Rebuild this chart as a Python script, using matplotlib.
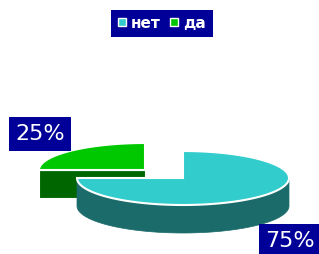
import numpy as np
import matplotlib.pyplot as plt
from matplotlib.patches import Polygon, Rectangle

labels = ['нет', 'да']
values = [75, 25]
top_colors = ['#33cccc', '#00c800']
side_colors = ['#1b6b6b', '#006600']

# layout (pixel units, y grows downward)
cx, cy, rx, ry, depth = 183, 178, 106, 27, 28
offsets = [(0, 0), (-38, -8)]
label_pos = [(290, 241), (40, 134)]

fig = plt.figure(figsize=(3.19, 2.54), dpi=100)
ax = fig.add_axes([0, 0, 1, 1])
ax.set_xlim(0, 319)
ax.set_ylim(254, 0)
ax.axis('off')


def pt(x0, y0, t):
    r = np.radians(t)
    return x0 + rx * np.cos(r), y0 - ry * np.sin(r)


# slice angles, start at 12 o'clock, clockwise
total = sum(values)
start = 90
slices = []
for v in values:
    t0 = start - 360 * v / total
    slices.append((t0, start))
    start = t0

# draw back slice first
for i in [1, 0]:
    t0, t1 = slices[i]
    x0 = cx + offsets[i][0]
    y0 = cy + offsets[i][1]
    # cut faces
    for a, n in [(t0, t0 - 90), (t1, t1 + 90)]:
        if np.sin(np.radians(n)) < -0.1:
            ex, ey = pt(x0, y0, a)
            ax.add_patch(Polygon([(x0, y0), (ex, ey), (ex, ey + depth), (x0, y0 + depth)],
                                 closed=True, facecolor=side_colors[i],
                                 edgecolor='white', lw=0.8))
    # outer wall
    ts = np.linspace(t0, t1, 300)
    ts = ts[np.sin(np.radians(ts)) <= 1e-9]
    if len(ts) > 1:
        xs, ys = pt(x0, y0, ts)
        poly = list(zip(xs, ys)) + list(zip(xs[::-1], ys[::-1] + depth))
        ax.add_patch(Polygon(poly, closed=True, facecolor=side_colors[i],
                             edgecolor=side_colors[i], lw=0.5))
    # top face
    ts = np.linspace(t0, t1, 300)
    xs, ys = pt(x0, y0, ts)
    poly = [(x0, y0)] + list(zip(xs, ys))
    ax.add_patch(Polygon(poly, closed=True, facecolor=top_colors[i],
                         edgecolor='white', lw=1.5))

# percentage labels
for i, v in enumerate(values):
    ax.text(label_pos[i][0], label_pos[i][1], f'{v}%', color='white', fontsize=16,
            ha='center', va='center',
            bbox=dict(boxstyle='square,pad=0.3', facecolor='#000099', edgecolor='none'))

# legend
ax.add_patch(Rectangle((111, 10), 102, 27, facecolor='#000099', edgecolor='none'))
leg_x = [118, 170]
for i, lab in enumerate(labels):
    ax.add_patch(Rectangle((leg_x[i], 18), 8, 8, facecolor=top_colors[i],
                           edgecolor='white', lw=1))
    ax.text(leg_x[i] + 13, 23, lab, color='white', fontsize=11, fontweight='bold',
            ha='left', va='center')

fig.savefig('out.png', dpi=100)
